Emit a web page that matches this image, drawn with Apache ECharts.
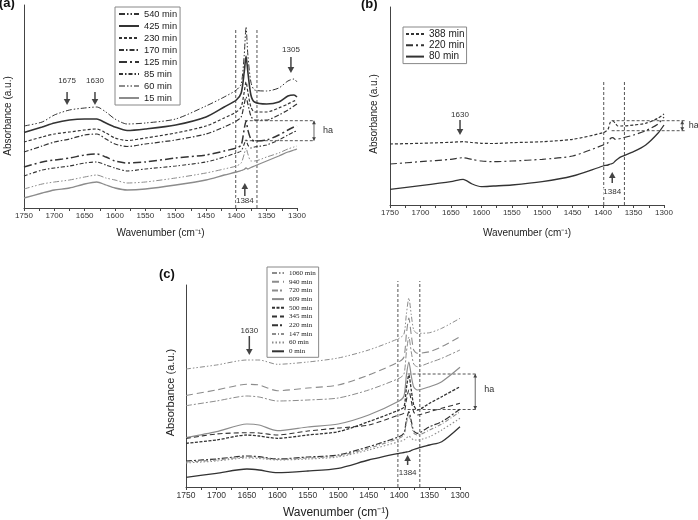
<!DOCTYPE html>
<html>
<head>
<meta charset="utf-8">
<script src="https://cdn.jsdelivr.net/npm/echarts@6/dist/echarts.min.js"></script>
<style>
  html, body { margin: 0; padding: 0; background: #fff; }
  #chart { width: 698px; height: 520px; }
</style>
</head>
<body>
<div id="chart"></div>
<script>
// wavenumbers (cm-1) sampled in each panel
const wnA = [1750, 1720, 1700, 1675, 1650, 1630, 1615, 1600, 1580, 1550, 1500, 1450, 1420, 1400, 1392, 1387, 1384, 1381, 1376, 1370, 1350, 1330, 1315, 1305, 1300];
const wnB = [1750, 1700, 1650, 1630, 1615, 1600, 1580, 1550, 1500, 1450, 1400, 1392, 1388, 1384, 1380, 1376, 1370, 1350, 1330, 1310, 1300];
const wnC = [1750, 1700, 1650, 1630, 1600, 1550, 1500, 1450, 1400, 1392, 1388, 1384, 1380, 1376, 1370, 1350, 1330, 1300];

// panel (a) absorbance, a.u. (offset spectra)
const a540 = [82, 86, 93, 98, 100, 101, 96, 89, 84, 85, 89, 102, 111, 118, 124, 153, 181, 153, 126, 118, 117, 120, 127, 129, 126];
const a425 = [75.5, 81, 85, 88, 89, 89, 85, 81, 77.5, 79, 83, 91, 101, 108, 115, 136, 152, 136, 113, 106, 104, 106, 112, 113, 111];
const a230 = [66, 71, 74, 76, 78, 79, 75, 70, 67.5, 70, 75, 82, 90, 96, 101, 116, 126, 116, 101, 96, 96, 100, 104, 107, 108];
const a170 = [56, 62, 66, 69, 73, 74, 69, 64, 61.5, 64, 68, 74, 81, 87, 91, 104, 111, 104, 92, 88, 88, 93, 98, 102, 104];
const a125 = [41, 46, 48, 50, 53, 54, 51, 47, 45, 46, 50, 53, 57, 60, 63, 79, 87, 78, 69, 67, 68, 73, 78, 81, 82];
const a85 = [32, 38, 40, 42, 45, 46, 43, 40, 37, 39, 42, 46, 51, 55, 57, 64, 68, 63, 60, 61, 63, 68, 73, 76, 77];
const a60 = [19, 24, 26, 28, 31, 33, 30, 28, 25, 26, 30, 35, 39, 42, 45, 54, 60, 54, 47, 47, 51, 55, 59, 61, 62];
const a15 = [10, 15, 18, 20, 24, 26, 23, 20, 18, 19, 23, 28, 33, 36, 37.5, 38.5, 40, 39, 40.5, 42, 47, 52, 56, 58, 59];

// panel (b)
const b388 = [61, 61.7, 62.7, 63.3, 62.5, 61.7, 61.5, 62.3, 63.3, 65.7, 72.3, 75.7, 83, 84, 81.7, 79, 79, 80, 81.7, 86.7, 91];
const b220 = [41, 43.3, 45.7, 47.3, 45.5, 44, 43.3, 44, 45.7, 49, 60, 62.3, 66.5, 67.3, 65.7, 66, 66.7, 70, 74.3, 81, 88];
const b80 = [15.7, 19.3, 23.3, 25.7, 21, 18.3, 19, 20, 23.3, 29, 39, 40, 41, 41.7, 44, 46, 48.3, 53.3, 60, 71.7, 80];

// panel (c)
const c1060 = [118, 122, 127, 127, 122.7, 125, 129, 137, 148.7, 153, 173, 189, 172, 157, 153.7, 154.3, 158.7, 168.7];
const c940 = [91.5, 97, 102.7, 102, 96.3, 99, 102, 112, 125.3, 130, 153, 169, 152, 137, 133.7, 135.3, 140.3, 150.3];
const c720 = [81.3, 86, 91, 90, 86, 87, 89, 97, 108.7, 113, 135, 150, 135, 123, 120.3, 124.3, 128.7, 137];
const c609 = [49.3, 55.3, 63, 62, 56.3, 60, 63, 72, 86, 91, 112, 125, 111, 100, 97, 100.3, 105.3, 119.7];
const c500 = [43.7, 47, 52, 51, 48.7, 52, 55.3, 65.3, 77, 80, 99, 112, 97, 82, 77, 83.7, 90.3, 100.3];
const c345 = [48.5, 53, 54.3, 54, 52, 56, 59, 62, 72, 74, 87, 97, 86, 75, 72, 75.3, 78.7, 83.7];
const c220 = [26, 28, 31, 30.3, 28, 30, 32, 40.3, 50.3, 54, 67, 75.3, 66, 56, 53.7, 60.3, 65.3, 77.7];
const c147 = [25, 27, 30, 29.5, 27.5, 29, 31, 38.7, 48.7, 52, 64, 72, 63, 54, 52, 57, 63, 75.3];
const c60 = [24, 26, 29, 28.5, 27, 28, 30, 37, 45.3, 47, 49, 51, 49, 47, 47, 50.3, 57, 68.7];
const c0 = [9.7, 13.7, 18, 17, 14.3, 16, 18.7, 27, 33.7, 34.5, 35, 35.5, 36.5, 37.5, 38.7, 42, 45.3, 60.3];

const namesA = ['540 min', '425 min', '230 min', '170 min', '125 min', '85 min', '60 min', '15 min'];
const namesB = ['388 min', '220 min', '80 min'];
const namesC = ['1060 min', '940 min', '720 min', '609 min', '500 min', '345 min', '220 min', '147 min', '60 min', '0 min'];

// annotations in data units: [panel, wn1, v1, wn2, v2]
const guideLines = [
  [0, 1401, 0, 1401, 180], [0, 1366, 0, 1366, 180], [0, 1386, 87.3, 1274, 87.3], [0, 1386, 67.3, 1274, 67.3],
  [1, 1399, 0, 1399, 123], [1, 1365, 0, 1365, 123], [1, 1386, 84.3, 1266, 84.3], [1, 1386, 74.3, 1266, 74.3],
  [2, 1402, 0, 1402, 206], [2, 1366, 0, 1366, 206], [2, 1386, 113, 1274, 113], [2, 1386, 77.5, 1274, 77.5]
];
// [panel, wn, vFrom, vTo] arrow head at vTo
const arrows = [
  [0, 1679, 116, 103], [0, 1633, 116, 103], [0, 1310, 151, 135], [0, 1386, 12, 25],
  [1, 1635, 85, 70], [1, 1385, 22, 33],
  [2, 1646, 151, 132], [2, 1386, 22, 32]
];
// [panel, text, wn, v]
const peakLabels = [
  [0, '1675', 1679, 127], [0, '1630', 1633, 127], [0, '1305', 1310, 158], [0, '1384', 1386, 7],
  [1, '1630', 1635, 90], [1, '1384', 1385, 13],
  [2, '1630', 1646, 156], [2, '1384', 1386, 14]
];
// [panel, wn, vLow, vHigh, wnText, vText]
const haBrackets = [
  [0, 1272, 67.3, 87.3, 1249, 77],
  [1, 1270, 74.3, 84.3, 1251, 79],
  [2, 1275, 77.5, 113, 1252, 97]
];

const dark = '#333', grey = '#8c8c8c';
const stylesA = {
  '540 min': {color: dark, width: 1, type: [6, 2, 1.5, 2, 1.5, 2]},
  '425 min': {color: dark, width: 1.6, type: 'solid'},
  '230 min': {color: dark, width: 1.2, type: [3, 2]},
  '170 min': {color: dark, width: 1.2, type: [5, 2, 1.5, 2]},
  '125 min': {color: dark, width: 1.5, type: [8, 3, 2, 3]},
  '85 min': {color: dark, width: 1.1, type: [4, 2, 1.5, 2]},
  '60 min': {color: grey, width: 1, type: [6, 2, 1.5, 2, 1.5, 2]},
  '15 min': {color: grey, width: 1.3, type: 'solid'}
};
const stylesB = {
  '388 min': {color: dark, width: 1.2, type: [3, 2]},
  '220 min': {color: dark, width: 1.2, type: [7, 3, 2, 3]},
  '80 min': {color: dark, width: 1.3, type: 'solid'}
};
const stylesC = {
  '1060 min': {color: grey, width: 1, type: [5, 2, 1.5, 2, 1.5, 2]},
  '940 min': {color: grey, width: 1.1, type: [7, 4]},
  '720 min': {color: grey, width: 1, type: [6, 2, 2, 2]},
  '609 min': {color: grey, width: 1.2, type: 'solid'},
  '500 min': {color: dark, width: 1.3, type: [3, 1.5]},
  '345 min': {color: dark, width: 1.1, type: [5, 3]},
  '220 min': {color: dark, width: 1.2, type: [6, 2, 2, 2]},
  '147 min': {color: grey, width: 1.1, type: [4, 2, 1, 2]},
  '60 min': {color: grey, width: 1.1, type: [1.5, 2]},
  '0 min': {color: dark, width: 1.3, type: 'solid'}
};

const chart = echarts.init(document.getElementById('chart'), null, {renderer: 'canvas'});

function buildSeries(wn, names, vals, styles, grid, tag) {
  return names.map((n, k) => ({
    name: tag + n,
    type: 'line',
    xAxisIndex: grid,
    yAxisIndex: grid,
    data: wn.map((w, i) => [w, vals[k][i]]),
    symbol: 'none',
    smooth: 0.25,
    silent: true,
    itemStyle: {color: styles[n].color},
    lineStyle: {color: styles[n].color, width: styles[n].width, type: styles[n].type}
  }));
}

function xAxisOf(grid, labelSize, nameSize, gap, pad) {
  return {
    type: 'value', gridIndex: grid, min: 1300, max: 1750, interval: 50, inverse: true,
    name: 'Wavenumber (cm\u207B\u00B9)', nameLocation: 'middle', nameGap: gap,
    nameTextStyle: {fontSize: nameSize, color: '#222', fontFamily: 'Liberation Sans', padding: pad},
    axisLine: {show: true, onZero: false, lineStyle: {color: '#444', width: 1}},
    axisTick: {show: true, length: 3, lineStyle: {color: '#444'}},
    minorTick: {show: true, splitNumber: 2, length: 3, lineStyle: {color: '#444'}},
    axisLabel: {fontSize: labelSize, color: '#333', margin: 4, fontFamily: 'Liberation Sans',
      formatter: v => String(v)},
    splitLine: {show: false}
  };
}

function yAxisOf(grid, max, nameSize, gap, pad) {
  return {
    type: 'value', gridIndex: grid, min: 0, max: max,
    name: 'Absorbance (a.u.)', nameLocation: 'middle', nameGap: gap,
    nameTextStyle: {fontSize: nameSize, color: '#222', fontFamily: 'Liberation Sans', padding: pad},
    axisLine: {show: true, lineStyle: {color: '#444', width: 1}},
    axisTick: {show: false},
    axisLabel: {show: false},
    splitLine: {show: false}
  };
}

function legendOf(tag, names, left, top, o) {
  return {
    data: names.map(n => tag + n),
    formatter: s => s.slice(tag.length),
    orient: 'vertical', left: left, top: top,
    itemWidth: o.iw, itemHeight: 6, itemGap: o.gap,
    padding: o.pad, borderColor: '#888', borderWidth: 1,
    selectedMode: false,
    itemStyle: {opacity: 0, borderWidth: 0},
    textStyle: {fontSize: o.fs, lineHeight: o.lh, color: '#222', fontFamily: o.ff}
  };
}

const series = [].concat(
  buildSeries(wnA, namesA, [a540, a425, a230, a170, a125, a85, a60, a15], stylesA, 0, 'a:'),
  buildSeries(wnB, namesB, [b388, b220, b80], stylesB, 1, 'b:'),
  buildSeries(wnC, namesC, [c1060, c940, c720, c609, c500, c345, c220, c147, c60, c0], stylesC, 2, 'c:')
);

chart.setOption({
  animation: false,
  backgroundColor: '#fff',
  title: [
    {text: '(a)', left: -1, top: -3, padding: 0, textStyle: {fontSize: 13, fontWeight: 'bold', color: '#111'}},
    {text: '(b)', left: 361, top: -2, padding: 0, textStyle: {fontSize: 13, fontWeight: 'bold', color: '#111'}},
    {text: '(c)', left: 159, top: 268, padding: 0, textStyle: {fontSize: 13, fontWeight: 'bold', color: '#111'}}
  ],
  grid: [
    {left: 24, top: 5, width: 273, bottom: 312},
    {left: 390, top: 7, width: 274, bottom: 315},
    {left: 186, top: 285, width: 274, bottom: 33}
  ],
  xAxis: [
    xAxisOf(0, 8, 10, 20, [0, 0, 0, 0]),
    xAxisOf(1, 8, 10, 23, [0, 0, 0, 0]),
    xAxisOf(2, 8.5, 12, 20, [0, 0, 0, 26])
  ],
  yAxis: [
    yAxisOf(0, 203, 10, 11, [0, 19, 0, 0]),
    yAxisOf(1, 198, 10, 11, [0, 16, 0, 0]),
    yAxisOf(2, 202, 11, 10, [0, 13, 0, 0])
  ],
  legend: [
    legendOf('a:', namesA, 115, 7, {iw: 20, gap: 2, pad: [2, 3, 2, 3], fs: 9.3, lh: 10, ff: 'Liberation Sans'}),
    legendOf('b:', namesB, 403, 27, {iw: 18, gap: 1.3, pad: [2, 2, 2, 2], fs: 10, lh: 10, ff: 'Liberation Sans'}),
    legendOf('c:', namesC, 267, 267, {iw: 12, gap: 1.7, pad: [2.5, 3, 2.5, 4], fs: 7, lh: 7, ff: 'Liberation Serif'})
  ],
  series: series
});

// annotations placed through the axes' own scales
function pt(g, w, v) { return chart.convertToPixel({gridIndex: g}, [w, v]); }
const ink = '#444';
const els = [];
guideLines.forEach(([g, w1, v1, w2, v2]) => {
  const p = pt(g, w1, v1), q = pt(g, w2, v2);
  els.push({type: 'line', silent: true, shape: {x1: p[0], y1: p[1], x2: q[0], y2: q[1]},
    style: {stroke: '#555', lineWidth: 1, lineDash: [3, 2]}});
});
function head(x, y, dir, s) {
  // dir = +1 points down, -1 points up
  return {type: 'polygon', silent: true,
    shape: {points: [[x, y], [x - s * 0.55, y - dir * s], [x + s * 0.55, y - dir * s]]},
    style: {fill: ink}};
}
arrows.forEach(([g, w, v1, v2]) => {
  const p = pt(g, w, v1), q = pt(g, w, v2);
  const dir = q[1] > p[1] ? 1 : -1;
  els.push({type: 'line', silent: true, shape: {x1: p[0], y1: p[1], x2: q[0], y2: q[1] - dir * 3},
    style: {stroke: ink, lineWidth: 1.5}});
  els.push(head(q[0], q[1], dir, 6));
});
peakLabels.forEach(([g, t, w, v]) => {
  const p = pt(g, w, v);
  els.push({type: 'text', silent: true, x: p[0], y: p[1],
    style: {text: t, fill: '#333', font: '8px "Liberation Sans"', align: 'center', verticalAlign: 'middle',
      backgroundColor: '#fff'}});
});
haBrackets.forEach(([g, w, lo, hi, wt, vt]) => {
  const p = pt(g, w, lo), q = pt(g, w, hi), t = pt(g, wt, vt);
  els.push({type: 'line', silent: true, shape: {x1: p[0], y1: p[1], x2: q[0], y2: q[1]},
    style: {stroke: '#666', lineWidth: 1}});
  els.push(head(p[0], p[1], 1, 3.5));
  els.push(head(q[0], q[1], -1, 3.5));
  els.push({type: 'text', silent: true, x: t[0], y: t[1],
    style: {text: 'ha', fill: '#333', font: '9px "Liberation Sans"', align: 'center', verticalAlign: 'middle'}});
});
chart.setOption({graphic: {elements: els}});
</script>
</body>
</html>
